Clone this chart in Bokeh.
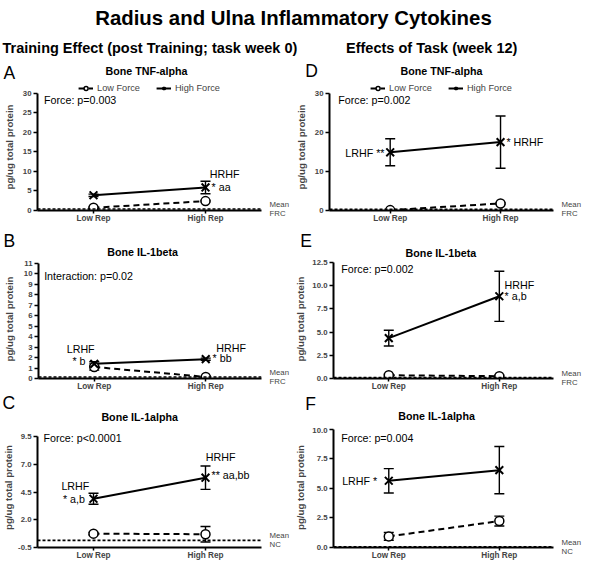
import numpy as np
from bokeh.plotting import figure
from bokeh.models import (ColumnDataSource, Range1d, FixedTicker, Label, Span,
                          Whisker, TeeHead, Legend, LegendItem, LinearAxis)
from bokeh.layouts import column, row
from bokeh.embed import file_html
from bokeh.resources import INLINE

# ---------------- data ----------------
rep_labels = ["Low Rep", "High Rep"]
rep_pos = [1, 2]
series_names = ["Low Force", "High Force"]

A_low = [0.7, 2.4];   A_low_sem = [0.2, 0.2]
A_high = [3.9, 5.9];  A_high_sem = [0.3, 1.6]
A_mean = 0.4

B_low = [1.1, 0.15];  B_low_sem = [0.3, 0.1]
B_high = [1.4, 1.85]; B_high_sem = [0.2, 0.1]
B_mean = 0.15

C_low = [0.75, 0.7];  C_low_sem = [0.1, 0.7]
C_high = [3.9, 5.8];  C_high_sem = [0.5, 1.05]
C_mean = 0.14

D_low = [0.1, 1.8];   D_low_sem = [0.1, 0.2]
D_high = [14.9, 17.5]; D_high_sem = [3.45, 6.7]
D_mean = 0.3

E_low = [0.35, 0.25]; E_low_sem = [0.1, 0.1]
E_high = [4.35, 8.85]; E_high_sem = [0.85, 2.7]
E_mean = 0.1

F_low = [0.94, 2.24]; F_low_sem = [0.33, 0.42]
F_high = [5.65, 6.55]; F_high_sem = [1.03, 2.0]
F_mean = 0.05

A_ticks = [0, 5, 10, 15, 20, 25, 30]
A_tick_labels = ["0", "5", "10", "15", "20", "25", "30"]
B_ticks = [0, 1, 2, 3, 4, 5, 6, 7, 8, 9, 10, 11]
B_tick_labels = ["0", "1", "2", "3", "4", "5", "6", "7", "8", "9", "10", "11"]
C_ticks = [-0.5, 2.0, 4.5, 7.0, 9.5]
C_tick_labels = ["-0.5", "2.0", "4.5", "7.0", "9.5"]
D_ticks = [0, 10, 20, 30]
D_tick_labels = ["0", "10", "20", "30"]
E_ticks = [0.0, 2.5, 5.0, 7.5, 10.0, 12.5]
E_tick_labels = ["0.0", "2.5", "5.0", "7.5", "10.0", "12.5"]
F_ticks = [0.0, 2.5, 5.0, 7.5, 10.0]
F_tick_labels = ["0.0", "2.5", "5.0", "7.5", "10.0"]

main_title = "Radius and Ulna Inflammatory Cytokines"
left_header = "Training Effect (post Training; task week 0)"
right_header = "Effects of  Task (week 12)"
y_label = "pg/ug total protein"

# ---------------- layout helpers ----------------
TOTAL_W, TOTAL_H = 584, 556
SX = TOTAL_W / 600.0
SY = TOTAL_H / 572.0
SF = 0.97  # font scale
FONT = "Liberation Sans"
HDR_PAD = 8  # extra strip under the page header


def pxx(v):
    return int(round(v * SX))


def pxy(v):
    return int(round(v * SY))


def fs(v):
    return f"{v * SF:.1f}px"


def blank_fig(w, h, xr, yr):
    f = figure(width=w, height=h, x_range=Range1d(*xr), y_range=Range1d(*yr), title=None,
               x_axis_type=None, y_axis_type=None, output_backend="svg",
               toolbar_location=None, min_border=0, min_border_left=0,
               min_border_right=0, min_border_top=0, min_border_bottom=0,
               outline_line_color=None, border_fill_color="white",
               background_fill_color="white")
    f.grid.visible = False
    return f


def label(p, t, x, y, size, bold=False, align="left", baseline="middle"):
    p.add_layout(Label(x=x, y=y, text=t, text_font=FONT, text_font_size=fs(size),
                       text_font_style="bold" if bold else "normal",
                       text_align=align, text_baseline=baseline, text_color="black"))


def make_plot(spec, Tf, H):
    bx0, by0, bx1, by1 = spec["box"]
    L, T, R, B = spec["frame"]
    ext = T - Tf
    W = pxx(bx1 - bx0)
    x0, x1 = spec["xr"]
    y0, y1 = spec["yr"]
    left = pxx(L - bx0)
    fw = pxx(R - L)
    fh = pxy(B - Tf) - 2
    y1e = y1 + ext / (B - T) * (y1 - y0)
    p = figure(width=W, height=H, x_range=Range1d(x0, x1), y_range=Range1d(y0, y1e),
               title=None, output_backend="svg", toolbar_location=None,
               min_border_left=left, min_border_right=W - left - fw,
               min_border_top=0, min_border_bottom=H - fh,
               outline_line_color=None, background_fill_color="white",
               border_fill_color="white")
    p.grid.visible = False

    xa = p.xaxis[0]
    xa.ticker = FixedTicker(ticks=rep_pos)
    xa.major_label_overrides = {k: v for k, v in zip(rep_pos, rep_labels)}
    xa.axis_line_width = 2.2
    xa.major_tick_line_width = 1.5
    xa.major_tick_out = 3
    xa.major_tick_in = 0
    xa.minor_tick_line_color = None
    xa.major_label_standoff = 0
    xa.major_label_text_font = FONT
    xa.major_label_text_font_style = "bold"
    xa.major_label_text_font_size = fs(8.5)

    ya = p.yaxis[0]
    ya.bounds = (y0, y1)
    ya.ticker = FixedTicker(ticks=spec["yticks"])
    ya.major_label_overrides = {k: v for k, v in zip(spec["yticks"], spec["ylabels"])}
    ya.axis_line_width = 2
    ya.major_tick_line_width = 1.5
    ya.major_tick_out = 4
    ya.major_tick_in = 0
    ya.minor_tick_line_color = None
    ya.major_label_standoff = 2
    ya.major_label_text_font = FONT
    ya.major_label_text_font_style = "bold"
    ya.major_label_text_font_size = fs(8)
    wlab = max(len(s) for s in spec["ylabels"])
    wpx = {1: 4.5, 2: 8.9, 3: 13.3, 4: 15.6}.get(wlab, 9)
    if "-0.5" in spec["ylabels"]:
        wpx = 13.8
    stand = (L - bx0) - 6 - wpx - (spec["ylab_x"] - bx0) - 5.75
    ya.axis_label = y_label
    ya.axis_label_text_font = FONT
    ya.axis_label_text_font_style = "bold"
    ya.axis_label_text_font_size = fs(10)
    ya.axis_label_standoff = max(0, int(round(stand * SX)))

    # right axis carrying the control-mean caption
    mean = spec["mean"]
    ra = LinearAxis(ticker=FixedTicker(ticks=[mean]),
                    major_label_overrides={mean: spec["mean_text"]},
                    axis_line_color=None, major_tick_line_color=None, minor_tick_line_color=None,
                    major_label_standoff=2, major_label_text_font=FONT,
                    major_label_text_font_size=fs(8), major_label_text_line_height=1.0)
    p.add_layout(ra, "right")

    # reference line (mean of control)
    p.add_layout(Span(location=mean, dimension="width", line_color="black",
                      line_width=1.6, line_dash="3 2"))

    low, low_sem = np.array(spec["low"]), np.array(spec["low_sem"])
    high, high_sem = np.array(spec["high"]), np.array(spec["high_sem"])
    src_lo = ColumnDataSource(dict(x=rep_pos, y=low, lower=low - low_sem, upper=low + low_sem))
    src_hi = ColumnDataSource(dict(x=rep_pos, y=high, lower=high - high_sem, upper=high + high_sem))

    for src in (src_lo, src_hi):
        w = Whisker(source=src, base="x", lower="lower", upper="upper",
                    line_color="black", line_width=1.4, level="underlay",
                    upper_head=TeeHead(size=10, line_width=1.4, line_color="black"),
                    lower_head=TeeHead(size=10, line_width=1.4, line_color="black"))
        p.add_layout(w)

    lo_line = p.line(x="x", y="y", source=src_lo, line_color="black", line_width=2, line_dash="6 4")
    hi_line = p.line(x="x", y="y", source=src_hi, line_color="black", line_width=2)
    lo_pts = p.scatter(x="x", y="y", source=src_lo, marker="circle", size=9,
                       fill_color="white", line_color="black", line_width=1.5)
    hi_pts = p.scatter(x="x", y="y", source=src_hi, marker="x", size=11,
                       line_color="black", line_width=2)

    if spec.get("legend"):
        lg = Legend(items=[LegendItem(label=series_names[0], renderers=[lo_line, lo_pts]),
                           LegendItem(label=series_names[1], renderers=[hi_line, hi_pts])],
                    orientation="horizontal", location="top_center",
                    label_text_font=FONT, label_text_font_size=fs(9.5),
                    glyph_width=15, glyph_height=10, label_height=10,
                    label_standoff=4, spacing=16, padding=0, margin=0,
                    border_line_color=None, background_fill_alpha=0)
        p.add_layout(lg)

    def to_data(tx, ty):
        xd = x0 + (tx - L) / (R - L) * (x1 - x0)
        yd = y0 + (B - ty) / (B - T) * (y1 - y0)
        return xd, yd

    for item in spec["notes"]:
        t, nx, ny = item[0], item[1], item[2]
        align = item[3] if len(item) > 3 else "left"
        xd, yd = to_data(nx, ny)
        label(p, t, xd, yd, 11, align=align)
    return p


def make_strip(specs_row, by0, Tf, h):
    s = blank_fig(TOTAL_W, h, (0, 600), (Tf, by0))
    for spec in specs_row:
        lx, ly = spec["letter"]
        label(s, spec["letter_text"], lx, ly, 18)
        tx, ty = spec["title_pos"]
        label(s, spec["title"], tx, ty, 11, bold=True, align="center")
    return s


specs = {
    "A": dict(box=(0, 55, 300, 225), frame=(32, 87.7, 270, 209.7),
              xr=(0.5, 2.5), yr=(0, 30),
              yticks=A_ticks, ylabels=A_tick_labels, low=A_low, low_sem=A_low_sem,
              high=A_high, high_sem=A_high_sem, mean=A_mean, legend=True,
              letter_text="A", letter=(3, 67), title="Bone TNF-alpha", title_pos=(150, 65), ylab_x=6,
              notes=[("Force: p=0.003", 39, 95), ("HRHF", 215, 171.7), ("* aa", 217, 185)],
              mean_text="Mean\nFRC"),
    "B": dict(box=(0, 225, 300, 398), frame=(33, 262.7, 270, 383.3),
              xr=(0.5, 2.5), yr=(0, 11),
              yticks=B_ticks, ylabels=B_tick_labels, low=B_low, low_sem=B_low_sem,
              high=B_high, high_sem=B_high_sem, mean=B_mean,
              letter_text="B", letter=(3, 239.5), title="Bone IL-1beta", title_pos=(146, 251), ylab_x=6,
              notes=[("Interaction: p=0.02", 39, 276), ("LRHF", 63, 352), ("* b", 83, 365, "right"),
                     ("HRHF", 222, 351.7), ("* bb", 218, 361.7)],
              mean_text="Mean\nFRC"),
    "C": dict(box=(0, 398, 300, 572), frame=(32.7, 441.7, 270, 558.5),
              xr=(0.5, 2.5), yr=(-0.5, 9.5),
              yticks=C_ticks, ylabels=C_tick_labels, low=C_low, low_sem=C_low_sem,
              high=C_high, high_sem=C_high_sem, mean=C_mean,
              letter_text="C", letter=(2, 407), title="Bone IL-1alpha", title_pos=(143, 420.7), ylab_x=6,
              notes=[("Force: p<0.0001", 39, 442.7), ("HRHF", 211, 463), ("** aa,bb", 217, 481.7),
                     ("LRHF", 58, 493.3), ("* a,b", 83, 507.3, "right")],
              mean_text="Mean\nNC"),
    "D": dict(box=(300, 55, 600, 225), frame=(333.5, 87.7, 576, 210),
              xr=(0.45, 2.48), yr=(0, 30),
              yticks=D_ticks, ylabels=D_tick_labels, low=D_low, low_sem=D_low_sem,
              high=D_high, high_sem=D_high_sem, mean=D_mean, legend=True,
              letter_text="D", letter=(313, 64.5), title="Bone TNF-alpha", title_pos=(453, 65), ylab_x=307.5,
              notes=[("Force: p=0.002", 343, 95), ("LRHF **", 393, 150, "right"), ("*  HRHF", 525, 138.3)],
              mean_text="Mean\nFRC"),
    "E": dict(box=(300, 225, 600, 398), frame=(337.5, 261.7, 576, 383.3),
              xr=(0.5, 2.49), yr=(0, 12.5),
              yticks=E_ticks, ylabels=E_tick_labels, low=E_low, low_sem=E_low_sem,
              high=E_high, high_sem=E_high_sem, mean=E_mean,
              letter_text="E", letter=(308, 240), title="Bone IL-1beta", title_pos=(452.5, 251.7), ylab_x=307.5,
              notes=[("Force: p=0.002", 346, 268.3), ("HRHF", 523, 285), ("* a,b", 523, 296.7)],
              mean_text="Mean\nFRC"),
    "F": dict(box=(300, 398, 600, 572), frame=(337.7, 434, 576, 557.7),
              xr=(0.5, 2.49), yr=(0, 10),
              yticks=F_ticks, ylabels=F_tick_labels, low=F_low, low_sem=F_low_sem,
              high=F_high, high_sem=F_high_sem, mean=F_mean,
              letter_text="F", letter=(313, 408), title="Bone IL-1alpha", title_pos=(448, 420), ylab_x=307.5,
              notes=[("Force: p=0.004", 346, 443.3), ("LRHF *", 385, 487.7, "right")],
              mean_text="Mean\nNC"),
}

HH = pxy(55)
H1, H2 = pxy(170), pxy(173)
H3 = TOTAL_H - HH - H1 - H2

# rows: (left key, right key, row top, row height, top of the plot frames)
row_defs = [("A", "D", 55, H1, 77.5), ("B", "E", 225, H2, 258.7), ("C", "F", 398, H3, 432.0)]

children = []
hdr_h = HH + HDR_PAD
hdr = blank_fig(TOTAL_W, hdr_h, (0, 600), (55.0 * hdr_h / HH, 0))
label(hdr, main_title, 301, 18.5, 21, bold=True, align="center", baseline="alphabetic")
label(hdr, left_header, 2, 49, 15, bold=True, baseline="alphabetic")
label(hdr, right_header, 355, 49, 15, bold=True, baseline="alphabetic")
children.append(hdr)

for lk, rk, by0, H, Tf in row_defs:
    sh = pxy(Tf - by0)
    children.append(make_strip([specs[lk], specs[rk]], by0, Tf, sh))
    children.append(row(make_plot(specs[lk], Tf, H - sh), make_plot(specs[rk], Tf, H - sh), spacing=0))

layout = column(*children, spacing=0)

open("out.html", "w").write(file_html(layout, INLINE))
